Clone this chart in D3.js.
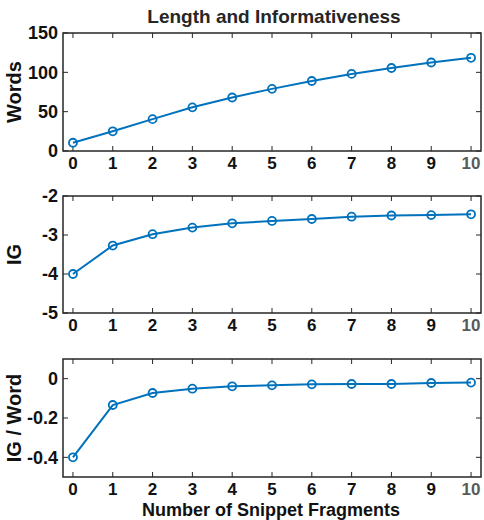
<!DOCTYPE html>
<html>
<head>
<meta charset="utf-8">
<script src="https://cdn.jsdelivr.net/npm/d3@7"></script>
<style>
	body { margin: 0; background: white; }
	svg text { font-family: 'Liberation Sans', Arial, sans-serif; font-weight: bold; }
</style>
</head>
<body>
<div id="chart"></div>
<script>
const fragments = [0, 1, 2, 3, 4, 5, 6, 7, 8, 9, 10];
const words = [10.5, 25, 40.5, 55.5, 68, 79, 89, 98, 105.5, 112.5, 118.5];
const ig = [-4.0, -3.27, -2.98, -2.81, -2.70, -2.64, -2.59, -2.53, -2.50, -2.49, -2.47];
const igPerWord = [-0.40, -0.134, -0.073, -0.051, -0.039, -0.034, -0.029, -0.027, -0.027, -0.022, -0.020];

const wordsTicks = [0, 50, 100, 150];
const igTicks = [-5, -4, -3, -2];
const igWordTicks = [-0.4, -0.2, 0];

let svgWidth = 484;
let svgHeight = 520;
let svg = d3.select('#chart').append('svg')
	.attr('width', svgWidth)
	.attr('height', svgHeight);

const left = 63, right = 481;
const lineColor = '#0072BD';
const axisColor = '#262626';

let x = d3.scaleLinear()
	.domain([-0.25, 10.25])
	.range([left, right]);

svg.append('text')
	.attr('x', (left + right) / 2 + 2)
	.attr('y', 23)
	.attr('text-anchor', 'middle')
	.attr('fill', axisColor)
	.attr('font-size', '19px')
	.text('Length and Informativeness');

function drawPanel(top, bottom, values, yDomain, yTicks, yFormat, label) {
	let y = d3.scaleLinear()
		.domain(yDomain)
		.range([bottom, top]);
	let g = svg.append('g');

	// box
	g.append('rect')
		.attr('x', left)
		.attr('y', top)
		.attr('width', right - left)
		.attr('height', bottom - top)
		.attr('fill', 'none')
		.attr('stroke', axisColor)
		.attr('stroke-width', 1.5);

	// x ticks inward on bottom and top
	fragments.forEach(d => {
		g.append('line')
			.attr('x1', x(d)).attr('x2', x(d))
			.attr('y1', bottom).attr('y2', bottom - 5)
			.attr('stroke', axisColor);
		g.append('line')
			.attr('x1', x(d)).attr('x2', x(d))
			.attr('y1', top).attr('y2', top + 5)
			.attr('stroke', axisColor);
		g.append('text')
			.attr('x', x(d))
			.attr('y', bottom + 18)
			.attr('text-anchor', 'middle')
			.attr('font-size', '17px')
			.attr('fill', d === 10 ? '#5a5a5a' : '#111')
			.text(d);
	});

	// y ticks inward on left and right
	yTicks.forEach(t => {
		g.append('line')
			.attr('x1', left).attr('x2', left + 5)
			.attr('y1', y(t)).attr('y2', y(t))
			.attr('stroke', axisColor);
		g.append('line')
			.attr('x1', right).attr('x2', right - 5)
			.attr('y1', y(t)).attr('y2', y(t))
			.attr('stroke', axisColor);
		g.append('text')
			.attr('x', left - 5)
			.attr('y', y(t))
			.attr('dy', '0.36em')
			.attr('text-anchor', 'end')
			.attr('font-size', '18px')
			.attr('fill', '#111')
			.text(yFormat(t));
	});

	g.append('text')
		.attr('transform', `translate(21, ${(top + bottom) / 2}) rotate(-90)`)
		.attr('text-anchor', 'middle')
		.attr('font-size', '20px')
		.attr('fill', '#111')
		.text(label);

	let line = d3.line()
		.x((d, i) => x(fragments[i]))
		.y(d => y(d));

	g.append('path')
		.attr('d', line(values))
		.attr('fill', 'none')
		.attr('stroke', lineColor)
		.attr('stroke-width', 2);

	g.selectAll('circle')
		.data(values)
		.enter()
		.append('circle')
		.attr('cx', (d, i) => x(fragments[i]))
		.attr('cy', d => y(d))
		.attr('r', 4)
		.attr('fill', 'none')
		.attr('stroke', lineColor)
		.attr('stroke-width', 1.8);
}

drawPanel(33, 151, words, [0, 150], wordsTicks, d => d, 'Words');
drawPanel(196, 313, ig, [-5, -2], igTicks, d => d, 'IG');
drawPanel(359, 477, igPerWord, [-0.5, 0.1], igWordTicks, d => d === 0 ? '0' : String(d), 'IG / Word');

svg.append('text')
	.attr('x', (left + right) / 2 - 1)
	.attr('y', 516)
	.attr('text-anchor', 'middle')
	.attr('font-size', '18px')
	.attr('fill', '#111')
	.text('Number of Snippet Fragments');
</script>
</body>
</html>
